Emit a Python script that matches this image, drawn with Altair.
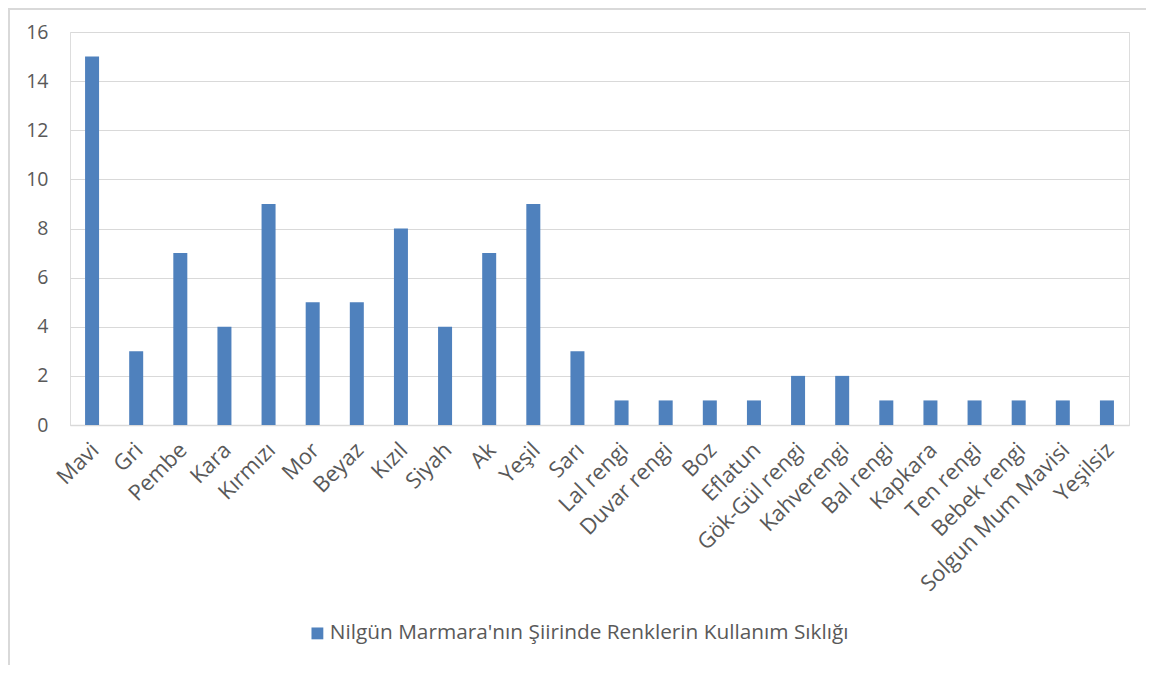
import altair as alt
import pandas as pd

categories = ["Mavi", "Gri", "Pembe", "Kara", "Kırmızı", "Mor", "Beyaz", "Kızıl", "Siyah", "Ak",
              "Yeşil", "Sarı", "Lal rengi", "Duvar rengi", "Boz", "Eflatun", "Gök-Gül rengi",
              "Kahverengi", "Bal rengi", "Kapkara", "Ten rengi", "Bebek rengi",
              "Solgun Mum Mavisi", "Yeşilsiz"]
values = [15, 3, 7, 4, 9, 5, 5, 8, 4, 7, 9, 3, 1, 1, 1, 1, 2, 2, 1, 1, 1, 1, 1, 1]
series_name = "Nilgün Marmara'nın Şiirinde Renklerin Kullanım Sıklığı"

df = pd.DataFrame({"renk": categories, "deger": values, "seri": series_name})

FONT = "Open Sans"
TXT = "#595959"
GRID = "#d9d9d9"

bars = alt.Chart(df).mark_bar(size=14).encode(
    x=alt.X("renk:N", sort=categories, title=None,
            axis=alt.Axis(labelAngle=-45, labelAlign="right", labelBaseline="top",
                          labelFont=FONT, labelFontSize=22, labelColor=TXT,
                          ticks=False, domainColor=GRID, domainWidth=1.5,
                          labelPadding=14, labelOffset=-4, labelOverlap=False, labelLimit=400)),
    y=alt.Y("deger:Q", title=None, scale=alt.Scale(domain=[0, 16], nice=False),
            axis=alt.Axis(values=list(range(0, 17, 2)), labelFont=FONT, labelFontSize=19.5,
                          labelColor=TXT, ticks=False, domain=False, grid=True,
                          gridColor=GRID, gridWidth=1.2, labelPadding=22)),
    color=alt.Color("seri:N", scale=alt.Scale(domain=[series_name], range=["#4F81BD"]),
                    legend=alt.Legend(title=None, orient="none", legendX=237, legendY=591,
                                      symbolType="square", symbolSize=140,
                                      symbolStrokeWidth=0, labelOffset=2,
                                      labelFont=FONT, labelFontSize=20.8, labelColor=TXT,
                                      labelLimit=800)),
)

border = alt.Chart(df).mark_rect(fill=None, stroke=GRID, strokeWidth=1.5).encode(
    x=alt.value(-61), x2=alt.value(1200), y=alt.value(-23), y2=alt.value(700)
)

chart = alt.layer(border, bars).properties(
    width=1059, height=393,
    autosize=alt.AutoSizeParams(type="none"),
    padding={"left": 62, "top": 24, "right": 17, "bottom": 240},
).configure_view(stroke=None).configure(background="white")

chart.save("out.html", embed_options={"renderer": "svg", "actions": False})
